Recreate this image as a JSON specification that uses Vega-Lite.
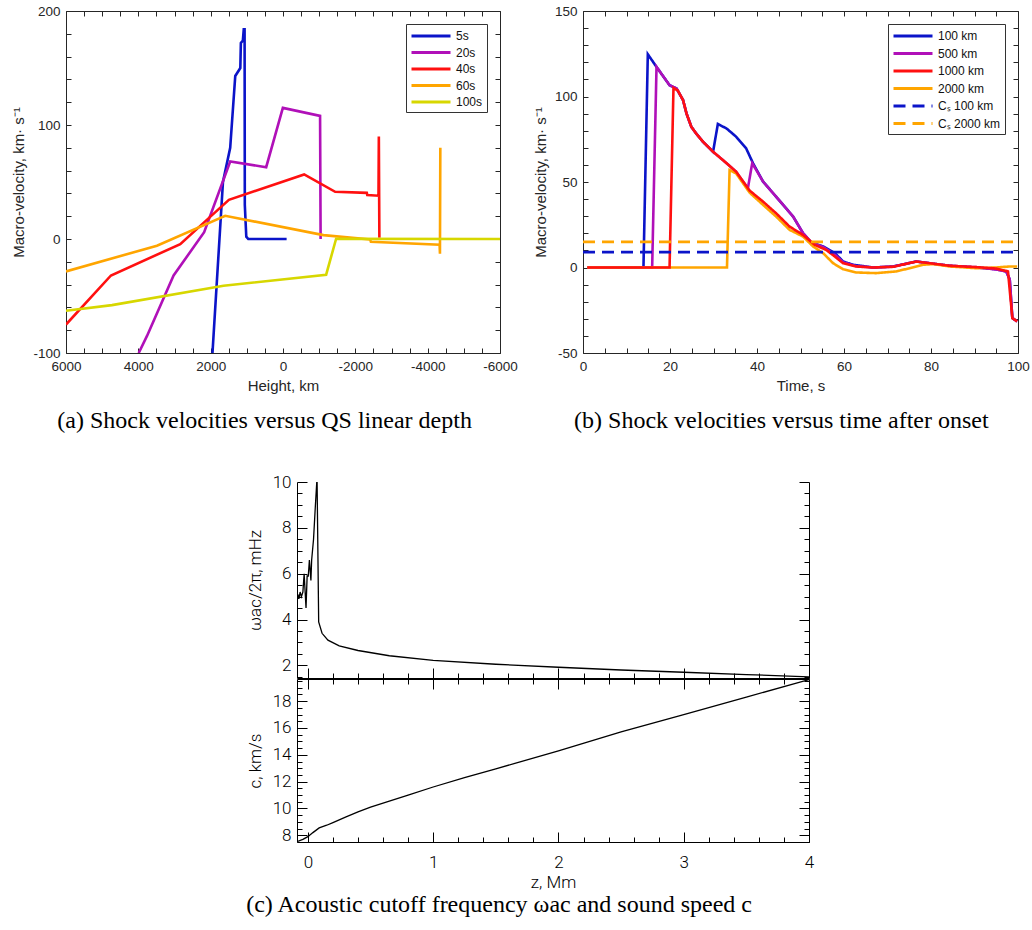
{
 "$schema": "https://vega.github.io/schema/vega-lite/v6.json",
 "background": "white",
 "padding": {"left": 11, "top": 3, "right": 5, "bottom": 3},
 "spacing": 40,
 "resolve": {"scale": {"color": "independent", "strokeDash": "independent"}, "legend": {"color": "independent", "strokeDash": "independent"}},
 "config": {
  "view": {"stroke": "#262626", "strokeWidth": 1},
  "axis": {"grid": false, "domain": false, "labelFont": "Liberation Sans", "labelFontSize": 13.5, "labelColor": "#262626", "titleFont": "Liberation Sans", "titleFontSize": 15, "titleFontWeight": "normal", "titleColor": "#262626", "tickColor": "#262626", "tickSize": -5, "labelPadding": 11, "labelFlush": false, "labelOverlap": false},
  "legend": {"orient": "top-right", "offset": 13, "title": null, "strokeColor": "#333333", "fillColor": "white", "padding": 4, "symbolType": "M-3,0H3", "symbolSize": 169, "symbolStrokeWidth": 3, "labelFont": "Liberation Sans", "labelFontSize": 12, "labelColor": "#111111", "rowPadding": 2.5, "symbolOffset": 13, "labelOffset": 17},
  "title": {"font": "Liberation Serif", "fontSize": 24, "fontWeight": "normal", "color": "black", "orient": "bottom", "offset": 15, "frame": "bounds"}
 },
 "vconcat": [
  {
   "spacing": 14,
   "resolve": {"scale": {"color": "independent", "strokeDash": "independent"}, "legend": {"color": "independent", "strokeDash": "independent"}},
   "hconcat": [
    {
     "width": 434, "height": 342,
     "title": {"text": "(a) Shock velocities versus QS linear depth", "orient": "bottom"},
     "data": {"values": [
      {"s": "5s", "h": 1950, "v": -100}, {"s": "5s", "h": 1660, "v": 50}, {"s": "5s", "h": 1460, "v": 80}, {"s": "5s", "h": 1320, "v": 143}, {"s": "5s", "h": 1180, "v": 150}, {"s": "5s", "h": 1165, "v": 172}, {"s": "5s", "h": 1110, "v": 174}, {"s": "5s", "h": 1085, "v": 184}, {"s": "5s", "h": 1062, "v": 184}, {"s": "5s", "h": 1056, "v": 30}, {"s": "5s", "h": 1015, "v": 2}, {"s": "5s", "h": 960, "v": 0}, {"s": "5s", "h": -100, "v": 0},
      {"s": "20s", "h": 3990, "v": -100}, {"s": "20s", "h": 3760, "v": -85}, {"s": "20s", "h": 3025, "v": -32}, {"s": "20s", "h": 2180, "v": 6}, {"s": "20s", "h": 1460, "v": 68}, {"s": "20s", "h": 465, "v": 63}, {"s": "20s", "h": 4, "v": 115}, {"s": "20s", "h": -1025, "v": 108}, {"s": "20s", "h": -1040, "v": 0},
      {"s": "40s", "h": 6000, "v": -75}, {"s": "40s", "h": 4757, "v": -32}, {"s": "40s", "h": 2841, "v": -4.5}, {"s": "40s", "h": 2030, "v": 19}, {"s": "40s", "h": 1496, "v": 34.4}, {"s": "40s", "h": -585, "v": 56.6}, {"s": "40s", "h": -1442, "v": 41.4}, {"s": "40s", "h": -2317, "v": 40.5}, {"s": "40s", "h": -2330, "v": 38.5}, {"s": "40s", "h": -2640, "v": 38}, {"s": "40s", "h": -2650, "v": 90}, {"s": "40s", "h": -2665, "v": 1},
      {"s": "60s", "h": 6000, "v": -28.4}, {"s": "60s", "h": 3486, "v": -5.9}, {"s": "60s", "h": 1598, "v": 20.4}, {"s": "60s", "h": -1119, "v": 3.4}, {"s": "60s", "h": -2409, "v": -0.4}, {"s": "60s", "h": -2430, "v": -2.5}, {"s": "60s", "h": -4330, "v": -5}, {"s": "60s", "h": -4340, "v": -13}, {"s": "60s", "h": -4350, "v": 80},
      {"s": "100s", "h": 6000, "v": -63}, {"s": "100s", "h": 4729, "v": -58}, {"s": "100s", "h": 1644, "v": -41}, {"s": "100s", "h": -1193, "v": -31.3}, {"s": "100s", "h": -1469, "v": 0.2}, {"s": "100s", "h": -6000, "v": 0}
     ]},
     "layer": [
      {
       "mark": {"type": "line", "strokeWidth": 2.6, "clip": true},
       "encoding": {
        "x": {"field": "h", "type": "quantitative", "scale": {"domain": [-6000, 6000], "reverse": true, "nice": false, "zero": false},
              "axis": {"title": "Height, km", "titlePadding": 6, "values": [-6000,-5500,-5000,-4500,-4000,-3500,-3000,-2500,-2000,-1500,-1000,-500,0,500,1000,1500,2000,2500,3000,3500,4000,4500,5000,5500,6000], "labelExpr": "datum.value % 2000 === 0 ? '' + datum.value : ''"}},
        "y": {"field": "v", "type": "quantitative", "scale": {"domain": [-100, 200], "nice": false, "zero": false},
              "axis": {"title": "Macro-velocity, km· s⁻¹", "titlePadding": 6, "values": [-100,-80,-60,-40,-20,0,20,40,60,80,100,120,140,160,180,200], "labelExpr": "datum.value % 100 === 0 ? '' + datum.value : ''"}},
        "color": {"field": "s", "type": "nominal", "scale": {"domain": ["5s", "20s", "40s", "60s", "100s"], "range": ["#0b14c9", "#b010b8", "#ff1010", "#ffa500", "#d7d700"]}, "legend": {"rowPadding": 2.5}}
       }
      },
      {
       "mark": {"type": "line", "opacity": 0},
       "encoding": {
        "x": {"field": "h", "type": "quantitative", "axis": {"orient": "top", "title": null, "labels": false, "values": [-6000,-5500,-5000,-4500,-4000,-3500,-3000,-2500,-2000,-1500,-1000,-500,0,500,1000,1500,2000,2500,3000,3500,4000,4500,5000,5500,6000]}},
        "y": {"field": "v", "type": "quantitative", "axis": {"orient": "right", "title": null, "labels": false, "values": [-100,-80,-60,-40,-20,0,20,40,60,80,100,120,140,160,180,200]}}
       }
      }
     ],
     "resolve": {"axis": {"x": "independent", "y": "independent"}}
    },
    {
     "width": 435, "height": 342,
     "title": {"text": "(b) Shock velocities versus time after onset", "orient": "bottom"},
     "data": {"values": [
      {"s": "100 km", "t": 1, "v": 0}, {"s": "100 km", "t": 13.9, "v": 0}, {"s": "100 km", "t": 14.9, "v": 124.7}, {"s": "100 km", "t": 16.9, "v": 117.3}, {"s": "100 km", "t": 19.9, "v": 106.6}, {"s": "100 km", "t": 21.5, "v": 104.7}, {"s": "100 km", "t": 23, "v": 97.9}, {"s": "100 km", "t": 23.8, "v": 90}, {"s": "100 km", "t": 24.9, "v": 82.3}, {"s": "100 km", "t": 26, "v": 78.4}, {"s": "100 km", "t": 27.6, "v": 73.5}, {"s": "100 km", "t": 29.9, "v": 67.7}, {"s": "100 km", "t": 31, "v": 83.9}, {"s": "100 km", "t": 33, "v": 81.3}, {"s": "100 km", "t": 35.2, "v": 76.5}, {"s": "100 km", "t": 37.5, "v": 69.7}, {"s": "100 km", "t": 39.1, "v": 60.9}, {"s": "100 km", "t": 41.4, "v": 50.2}, {"s": "100 km", "t": 44.4, "v": 41.4}, {"s": "100 km", "t": 48.3, "v": 29.8}, {"s": "100 km", "t": 50.6, "v": 20}, {"s": "100 km", "t": 52.5, "v": 14.6}, {"s": "100 km", "t": 55.2, "v": 12.3}, {"s": "100 km", "t": 57.9, "v": 8.4}, {"s": "100 km", "t": 59.8, "v": 3.5}, {"s": "100 km", "t": 62.1, "v": 1.6}, {"s": "100 km", "t": 66.7, "v": 0}, {"s": "100 km", "t": 71.3, "v": 0.6}, {"s": "100 km", "t": 76.6, "v": 3.5}, {"s": "100 km", "t": 79.7, "v": 2.5}, {"s": "100 km", "t": 84.3, "v": 1}, {"s": "100 km", "t": 90.4, "v": 0}, {"s": "100 km", "t": 95, "v": -1}, {"s": "100 km", "t": 97.3, "v": -2.3}, {"s": "100 km", "t": 98.1, "v": -7}, {"s": "100 km", "t": 98.7, "v": -29.6}, {"s": "100 km", "t": 99.8, "v": -31.5},
      {"s": "500 km", "t": 1, "v": 0}, {"s": "500 km", "t": 15.9, "v": 0}, {"s": "500 km", "t": 16.9, "v": 117.3}, {"s": "500 km", "t": 19.9, "v": 106.6}, {"s": "500 km", "t": 21.5, "v": 104.7}, {"s": "500 km", "t": 23, "v": 97.9}, {"s": "500 km", "t": 23.8, "v": 90}, {"s": "500 km", "t": 24.9, "v": 82.3}, {"s": "500 km", "t": 26, "v": 78.4}, {"s": "500 km", "t": 27.6, "v": 73.5}, {"s": "500 km", "t": 29.9, "v": 67.7}, {"s": "500 km", "t": 33, "v": 61}, {"s": "500 km", "t": 35.2, "v": 56}, {"s": "500 km", "t": 37.9, "v": 46.3}, {"s": "500 km", "t": 38.9, "v": 61}, {"s": "500 km", "t": 41.4, "v": 50.2}, {"s": "500 km", "t": 44.4, "v": 41.4}, {"s": "500 km", "t": 48.3, "v": 29.8}, {"s": "500 km", "t": 50.6, "v": 20}, {"s": "500 km", "t": 52.5, "v": 14.6}, {"s": "500 km", "t": 55.2, "v": 12}, {"s": "500 km", "t": 57.9, "v": 7.5}, {"s": "500 km", "t": 59.8, "v": 3}, {"s": "500 km", "t": 62.8, "v": 0.8}, {"s": "500 km", "t": 66.7, "v": 0}, {"s": "500 km", "t": 71.3, "v": 0.5}, {"s": "500 km", "t": 76.6, "v": 3.5}, {"s": "500 km", "t": 79.7, "v": 2.5}, {"s": "500 km", "t": 84.3, "v": 1}, {"s": "500 km", "t": 90.4, "v": 0.2}, {"s": "500 km", "t": 95, "v": -1.2}, {"s": "500 km", "t": 97.3, "v": -2.3}, {"s": "500 km", "t": 98.1, "v": -7}, {"s": "500 km", "t": 98.7, "v": -29.6}, {"s": "500 km", "t": 99.8, "v": -31.5},
      {"s": "2000 km", "t": 1, "v": 0}, {"s": "2000 km", "t": 33.1, "v": 0}, {"s": "2000 km", "t": 33.7, "v": 57}, {"s": "2000 km", "t": 35.2, "v": 55}, {"s": "2000 km", "t": 38.3, "v": 43.8}, {"s": "2000 km", "t": 41.4, "v": 36.6}, {"s": "2000 km", "t": 44.4, "v": 29.8}, {"s": "2000 km", "t": 47.5, "v": 22}, {"s": "2000 km", "t": 50.6, "v": 18.1}, {"s": "2000 km", "t": 52.9, "v": 12.3}, {"s": "2000 km", "t": 55.2, "v": 8.4}, {"s": "2000 km", "t": 57.5, "v": 2.5}, {"s": "2000 km", "t": 59.8, "v": -1}, {"s": "2000 km", "t": 62.8, "v": -2.9}, {"s": "2000 km", "t": 67.4, "v": -3.3}, {"s": "2000 km", "t": 72, "v": -2.3}, {"s": "2000 km", "t": 75.1, "v": -0.4}, {"s": "2000 km", "t": 78.2, "v": 1.6}, {"s": "2000 km", "t": 80.5, "v": 2}, {"s": "2000 km", "t": 84.3, "v": 0.6}, {"s": "2000 km", "t": 90.4, "v": -0.4}, {"s": "2000 km", "t": 95, "v": 0}, {"s": "2000 km", "t": 98.1, "v": 0.6}, {"s": "2000 km", "t": 99.8, "v": 0.6},
      {"s": "1000 km", "t": 1, "v": 0}, {"s": "1000 km", "t": 19.9, "v": 0}, {"s": "1000 km", "t": 20.8, "v": 105}, {"s": "1000 km", "t": 21.8, "v": 103.5}, {"s": "1000 km", "t": 23, "v": 97.9}, {"s": "1000 km", "t": 23.8, "v": 90}, {"s": "1000 km", "t": 24.9, "v": 82.3}, {"s": "1000 km", "t": 26, "v": 78.4}, {"s": "1000 km", "t": 27.6, "v": 73.5}, {"s": "1000 km", "t": 29.9, "v": 67.7}, {"s": "1000 km", "t": 33, "v": 61}, {"s": "1000 km", "t": 35.2, "v": 56}, {"s": "1000 km", "t": 38.3, "v": 45}, {"s": "1000 km", "t": 41.4, "v": 38.5}, {"s": "1000 km", "t": 44.4, "v": 31.7}, {"s": "1000 km", "t": 47.5, "v": 23.9}, {"s": "1000 km", "t": 50.6, "v": 19}, {"s": "1000 km", "t": 53.3, "v": 13.2}, {"s": "1000 km", "t": 55.9, "v": 10.3}, {"s": "1000 km", "t": 57.9, "v": 6.4}, {"s": "1000 km", "t": 59.8, "v": 2.5}, {"s": "1000 km", "t": 62.8, "v": 0.6}, {"s": "1000 km", "t": 66.7, "v": 0}, {"s": "1000 km", "t": 71.3, "v": 0.4}, {"s": "1000 km", "t": 76.6, "v": 3.5}, {"s": "1000 km", "t": 79.7, "v": 2.5}, {"s": "1000 km", "t": 84.3, "v": 1}, {"s": "1000 km", "t": 90.4, "v": 0.2}, {"s": "1000 km", "t": 95, "v": -0.6}, {"s": "1000 km", "t": 97.7, "v": -2.3}, {"s": "1000 km", "t": 98.7, "v": -29.6}, {"s": "1000 km", "t": 99.8, "v": -31.5},
      {"s": "Cₛ 100 km", "t": 0, "v": 9}, {"s": "Cₛ 100 km", "t": 100, "v": 9},
      {"s": "Cₛ 2000 km", "t": 0, "v": 15}, {"s": "Cₛ 2000 km", "t": 100, "v": 15}
     ]},
     "layer": [
      {
       "mark": {"type": "line", "strokeWidth": 2.6, "clip": true},
       "encoding": {
        "x": {"field": "t", "type": "quantitative", "scale": {"domain": [0, 100], "nice": false, "zero": false},
              "axis": {"title": "Time, s", "titlePadding": 6, "values": [0,5,10,15,20,25,30,35,40,45,50,55,60,65,70,75,80,85,90,95,100], "labelExpr": "datum.value % 20 === 0 ? '' + datum.value : ''"}},
        "y": {"field": "v", "type": "quantitative", "scale": {"domain": [-50, 150], "nice": false, "zero": false},
              "axis": {"title": "Macro-velocity, km· s⁻¹", "titlePadding": 6, "values": [-50,-40,-30,-20,-10,0,10,20,30,40,50,60,70,80,90,100,110,120,130,140,150], "labelExpr": "datum.value % 50 === 0 ? '' + datum.value : ''"}},
        "color": {"field": "s", "type": "nominal", "scale": {"domain": ["100 km", "500 km", "1000 km", "2000 km", "Cₛ 100 km", "Cₛ 2000 km"], "range": ["#0b14c9", "#b010b8", "#ff1010", "#ffa500", "#0b14c9", "#ffa500"]}, "legend": {"rowPadding": 3.5}},
        "strokeDash": {"field": "s", "type": "nominal", "scale": {"domain": ["100 km", "500 km", "1000 km", "2000 km", "Cₛ 100 km", "Cₛ 2000 km"], "range": [[1, 0], [1, 0], [1, 0], [1, 0], [12, 7], [12, 7]]}, "legend": {"rowPadding": 3.5}}
       }
      },
      {
       "mark": {"type": "line", "opacity": 0},
       "encoding": {
        "x": {"field": "t", "type": "quantitative", "axis": {"orient": "top", "title": null, "labels": false, "values": [0,5,10,15,20,25,30,35,40,45,50,55,60,65,70,75,80,85,90,95,100]}},
        "y": {"field": "v", "type": "quantitative", "axis": {"orient": "right", "title": null, "labels": false, "values": [-50,-40,-30,-20,-10,0,10,20,30,40,50,60,70,80,90,100,110,120,130,140,150]}}
       }
      }
     ],
     "resolve": {"axis": {"x": "independent", "y": "independent"}}
    }
   ]
  },
  {
   "spacing": 0,
   "hconcat": [
    {"width": 180, "height": 5, "view": {"stroke": null}, "data": {"values": []}, "mark": {"type": "point", "opacity": 0}},
    {
     "spacing": -5,
     "title": {"text": "(c) Acoustic cutoff frequency ωac and sound speed c", "orient": "bottom", "offset": 3},
     "vconcat": [
      {
       "width": 512, "height": 196,
       "view": {"stroke": null},
       "data": {"values": [
        {"z": -0.087, "w": 4.7}, {"z": -0.08, "w": 5.1}, {"z": -0.072, "w": 4.9}, {"z": -0.062, "w": 5.2}, {"z": -0.052, "w": 5.0}, {"z": -0.04, "w": 5.2}, {"z": -0.03, "w": 6.0}, {"z": -0.015, "w": 4.5}, {"z": -0.006, "w": 5.9}, {"z": 0.003, "w": 5.9}, {"z": 0.012, "w": 6.6}, {"z": 0.024, "w": 5.7}, {"z": 0.03, "w": 6.6}, {"z": 0.045, "w": 7.5}, {"z": 0.06, "w": 9.0}, {"z": 0.073, "w": 10.2}, {"z": 0.086, "w": 3.9}, {"z": 0.113, "w": 3.4}, {"z": 0.16, "w": 3.1}, {"z": 0.25, "w": 2.85}, {"z": 0.4, "w": 2.65}, {"z": 0.65, "w": 2.42}, {"z": 1.0, "w": 2.22}, {"z": 1.5, "w": 2.05}, {"z": 2.0, "w": 1.92}, {"z": 2.5, "w": 1.8}, {"z": 3.0, "w": 1.7}, {"z": 3.5, "w": 1.6}, {"z": 4.0, "w": 1.5}
       ]},
       "layer": [
        {
         "mark": {"type": "line", "color": "black", "strokeWidth": 1.3, "clip": true},
         "encoding": {
          "x": {"field": "z", "type": "quantitative", "scale": {"domain": [-0.087, 4], "nice": false, "zero": false},
                "axis": {"orient": "bottom", "title": null, "labels": false, "domain": true, "domainColor": "black", "tickColor": "black", "values": [0,0.2,0.4,0.6,0.8,1,1.2,1.4,1.6,1.8,2,2.2,2.4,2.6,2.8,3,3.2,3.4,3.6,3.8,4], "tickSize": {"condition": {"test": "datum.value % 1 === 0", "value": -10}, "value": -5}}},
          "y": {"field": "w", "type": "quantitative", "scale": {"domain": [1.45, 10], "nice": false, "zero": false},
                "axis": {"title": "ωac/2π,  mHz", "domain": true, "domainColor": "black", "tickColor": "black", "values": [1.5,2,2.5,3,3.5,4,4.5,5,5.5,6,6.5,7,7.5,8,8.5,9,9.5,10], "labelExpr": "datum.value % 2 === 0 ? '' + datum.value : ''", "labelFontSize": {"condition": {"test": "datum.value % 2 === 0", "value": 17}, "value": 0}, "tickSize": {"condition": {"test": "datum.value % 2 === 0", "value": -10}, "value": -5}, "labelPadding": 16, "labelFont": "Roboto", "labelFontWeight": 300, "labelColor": "black", "titleFont": "Roboto", "titleFontWeight": 300, "titleFontSize": 17, "titleColor": "black", "titlePadding": 8}}
         }
        },
        {
         "mark": {"type": "line", "opacity": 0},
         "encoding": {
          "x": {"field": "z", "type": "quantitative", "axis": null},
          "y": {"field": "w", "type": "quantitative", "axis": {"orient": "right", "title": null, "labels": false, "domain": true, "domainColor": "black", "tickColor": "black", "values": [1.5,2,2.5,3,3.5,4,4.5,5,5.5,6,6.5,7,7.5,8,8.5,9,9.5,10], "tickSize": {"condition": {"test": "datum.value % 2 === 0", "value": -10}, "value": -5}}}
         }
        }
       ],
       "resolve": {"axis": {"x": "independent", "y": "independent"}}
      },
      {
       "width": 512, "height": 163,
       "view": {"stroke": null},
       "data": {"values": [
        {"z": -0.087, "c": 7.53}, {"z": -0.04, "c": 7.7}, {"z": 0.0, "c": 7.9}, {"z": 0.04, "c": 8.2}, {"z": 0.09, "c": 8.55}, {"z": 0.15, "c": 8.75}, {"z": 0.2, "c": 8.95}, {"z": 0.3, "c": 9.35}, {"z": 0.4, "c": 9.75}, {"z": 0.5, "c": 10.1}, {"z": 0.65, "c": 10.55}, {"z": 0.8, "c": 11.0}, {"z": 1.0, "c": 11.6}, {"z": 1.25, "c": 12.3}, {"z": 1.5, "c": 12.95}, {"z": 2.0, "c": 14.3}, {"z": 2.5, "c": 15.7}, {"z": 3.0, "c": 17.0}, {"z": 3.5, "c": 18.3}, {"z": 4.0, "c": 19.6}
       ]},
       "layer": [
        {
         "mark": {"type": "line", "color": "black", "strokeWidth": 1.3, "clip": true},
         "encoding": {
          "x": {"field": "z", "type": "quantitative", "scale": {"domain": [-0.087, 4], "nice": false, "zero": false},
                "axis": {"orient": "bottom", "title": "z,  Mm", "domain": true, "domainColor": "black", "tickColor": "black", "values": [0,0.2,0.4,0.6,0.8,1,1.2,1.4,1.6,1.8,2,2.2,2.4,2.6,2.8,3,3.2,3.4,3.6,3.8,4], "labelExpr": "datum.value % 1 === 0 ? '' + datum.value : ''", "labelFontSize": {"condition": {"test": "datum.value % 1 === 0", "value": 17}, "value": 0}, "tickSize": {"condition": {"test": "datum.value % 1 === 0", "value": -10}, "value": -5}, "labelPadding": 22, "labelFont": "Roboto", "labelFontWeight": 300, "labelColor": "black", "titleFont": "Roboto", "titleFontWeight": 300, "titleFontSize": 17, "titleColor": "black", "titlePadding": 4}},
          "y": {"field": "c", "type": "quantitative", "scale": {"domain": [7.5, 19.65], "nice": false, "zero": false},
                "axis": {"title": "c,  km/s", "domain": true, "domainColor": "black", "tickColor": "black", "values": [7.5,8,8.5,9,9.5,10,10.5,11,11.5,12,12.5,13,13.5,14,14.5,15,15.5,16,16.5,17,17.5,18,18.5,19,19.5], "labelExpr": "datum.value % 2 === 0 ? '' + datum.value : ''", "labelFontSize": {"condition": {"test": "datum.value % 2 === 0", "value": 17}, "value": 0}, "tickSize": {"condition": {"test": "datum.value % 2 === 0", "value": -10}, "value": -5}, "labelPadding": 16, "labelFont": "Roboto", "labelFontWeight": 300, "labelColor": "black", "titleFont": "Roboto", "titleFontWeight": 300, "titleFontSize": 17, "titleColor": "black", "titlePadding": 8}}
         }
        },
        {
         "mark": {"type": "line", "opacity": 0},
         "encoding": {
          "x": {"field": "z", "type": "quantitative", "axis": {"orient": "top", "title": null, "labels": false, "domain": true, "domainColor": "black", "tickColor": "black", "values": [0,0.2,0.4,0.6,0.8,1,1.2,1.4,1.6,1.8,2,2.2,2.4,2.6,2.8,3,3.2,3.4,3.6,3.8,4], "tickSize": {"condition": {"test": "datum.value % 1 === 0", "value": -10}, "value": -5}}},
          "y": {"field": "c", "type": "quantitative", "axis": {"orient": "right", "title": null, "labels": false, "domain": true, "domainColor": "black", "tickColor": "black", "values": [7.5,8,8.5,9,9.5,10,10.5,11,11.5,12,12.5,13,13.5,14,14.5,15,15.5,16,16.5,17,17.5,18,18.5,19,19.5], "tickSize": {"condition": {"test": "datum.value % 2 === 0", "value": -10}, "value": -5}}}
         }
        }
       ],
       "resolve": {"axis": {"x": "independent", "y": "independent"}}
      }
     ]
    }
   ]
  }
 ]
}
